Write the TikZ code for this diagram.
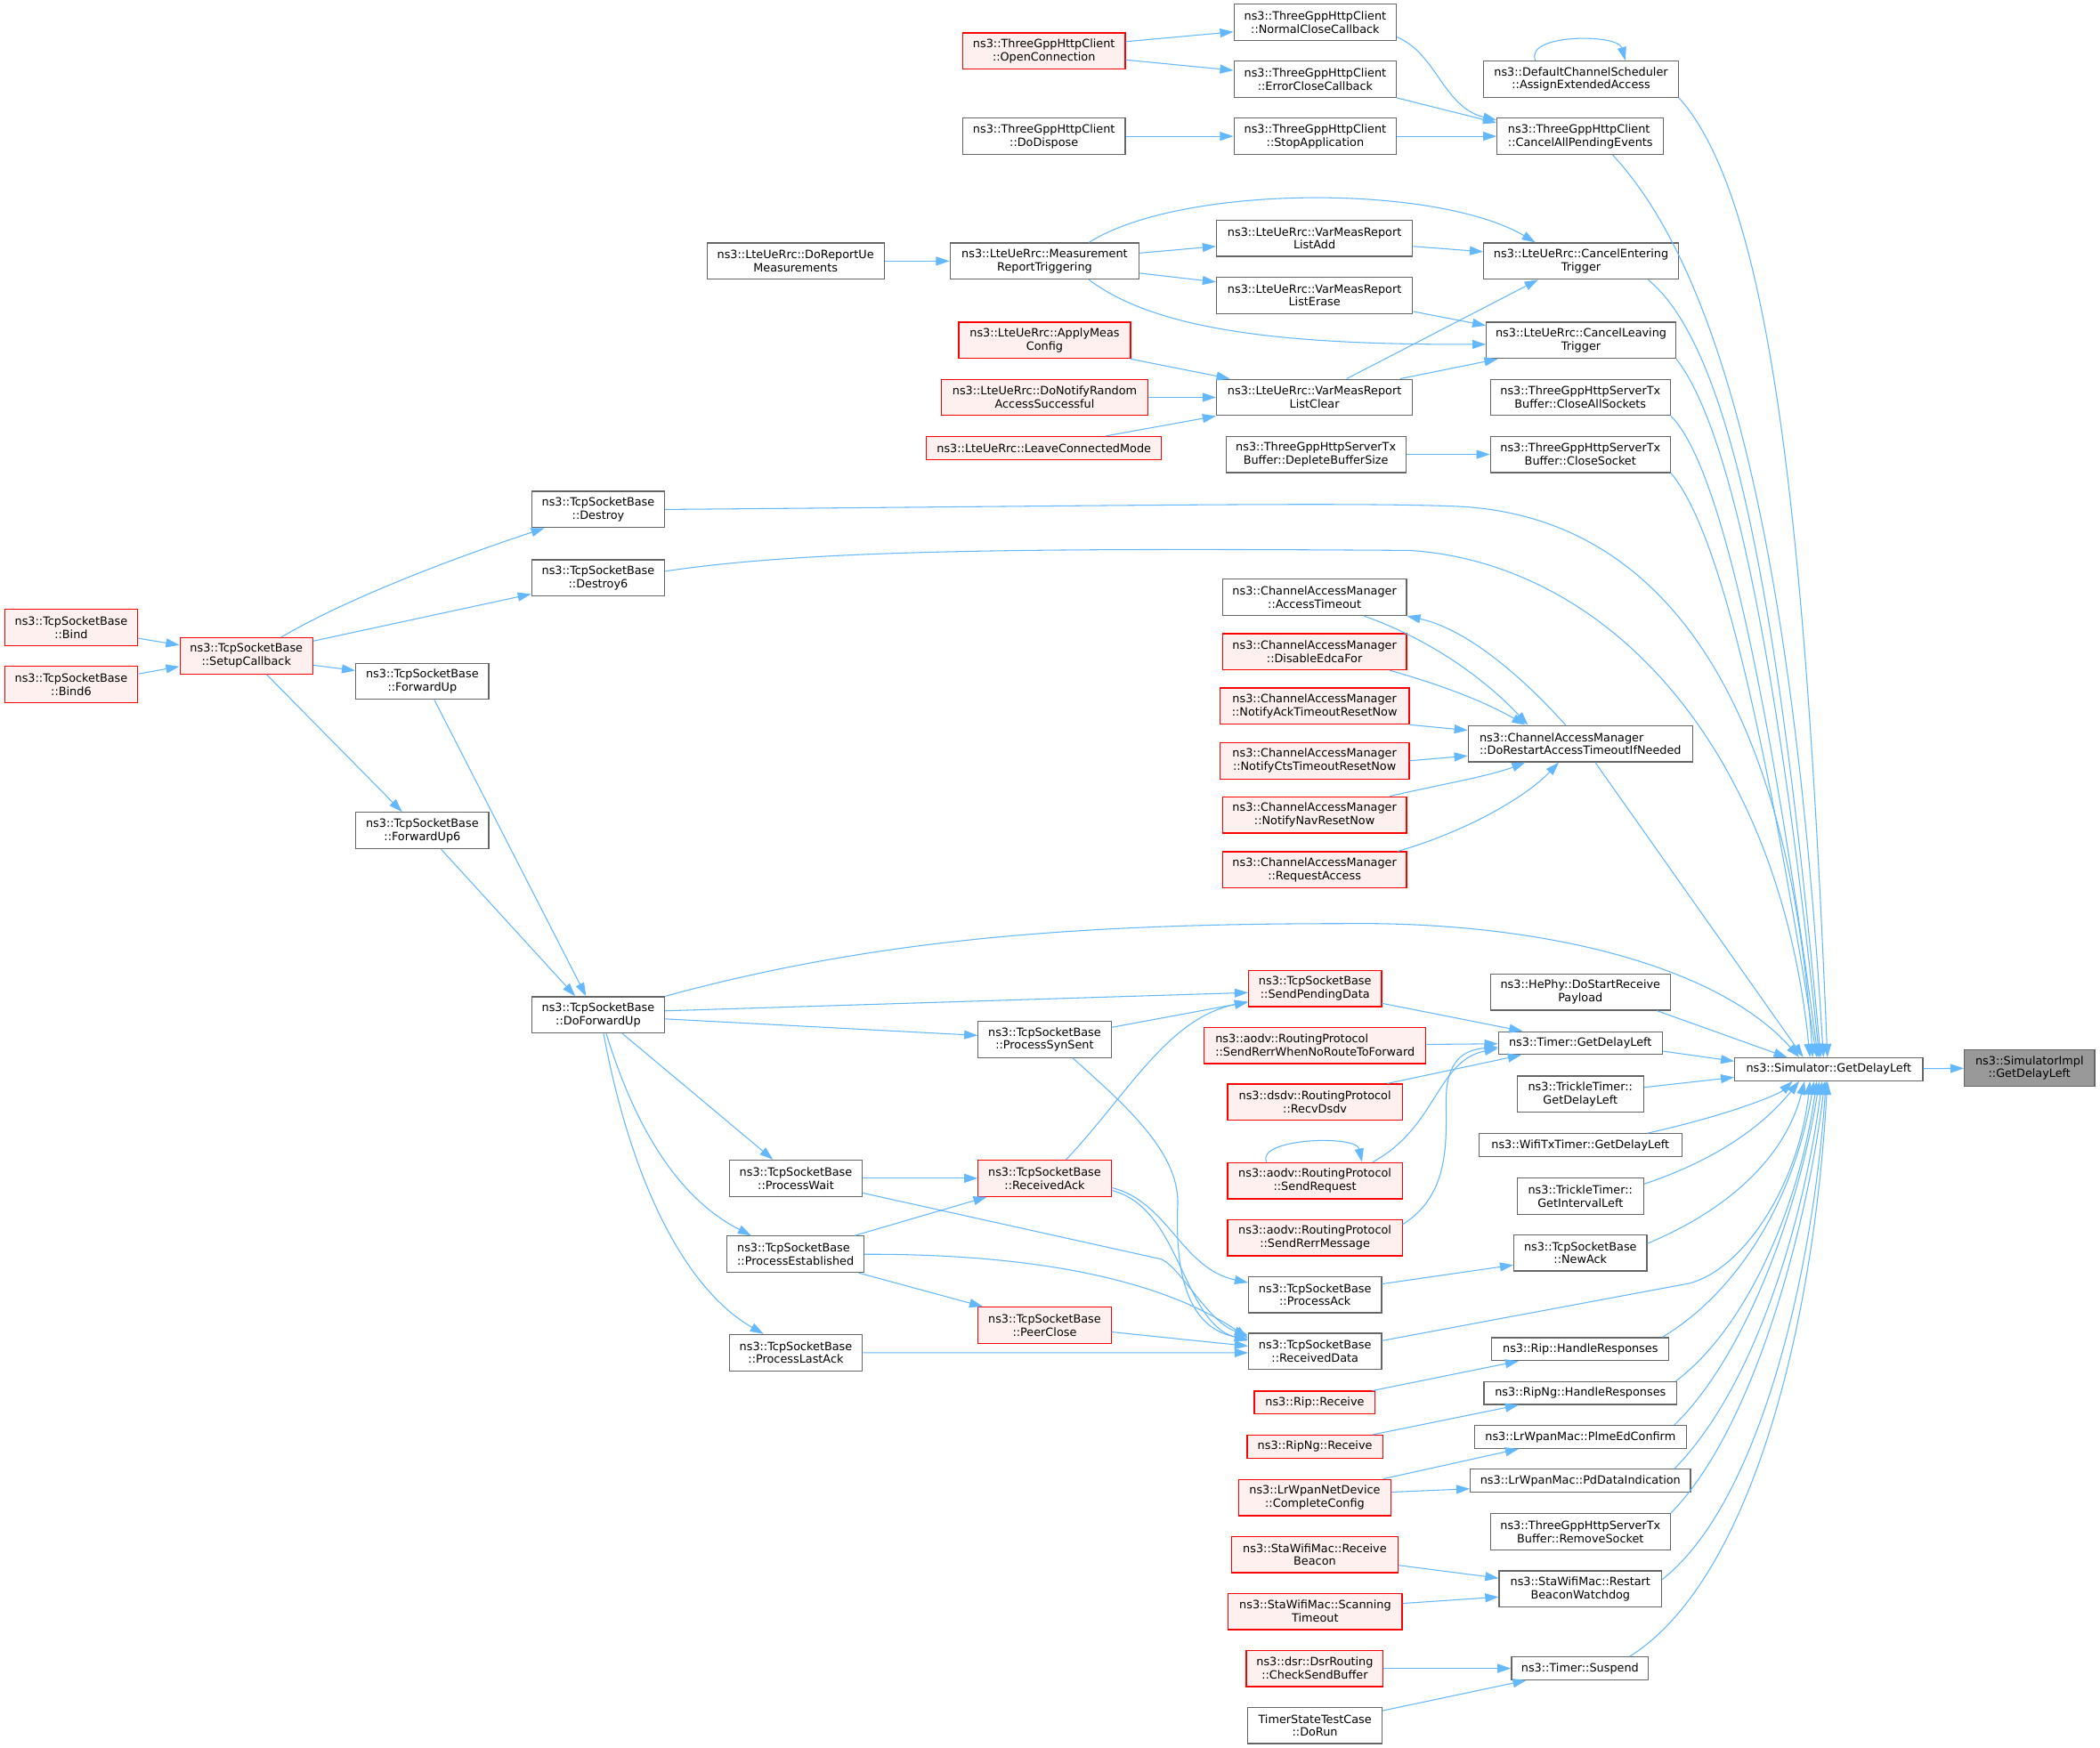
\documentclass[tikz,border=0pt]{standalone}
\usepackage{fontspec}
\setmainfont{DejaVu Sans}
\usetikzlibrary{arrows.meta}
\definecolor{edgeblue}{HTML}{63B8FF}
\definecolor{redfill}{HTML}{FFF0F0}
\definecolor{boxgray}{HTML}{666666}
\definecolor{focusgray}{HTML}{999999}
\begin{document}
\begin{tikzpicture}[x=1pt,y=-1pt,
    fn/.style={draw=boxgray,fill=white,line width=0.8pt,align=center,inner sep=0pt,minimum height=27pt,font=\fontsize{8.5}{9.8}\selectfont},
    fnr/.style={fn,draw=red,fill=redfill},
    focus/.style={fn,fill=focusgray},
    oneline/.style={minimum height=17pt},
    call/.style={draw=edgeblue,line width=0.7pt,-{Triangle[length=10pt,width=6.6pt]}}]
\useasboundingbox[fill=white] (0,0) rectangle (1564,1302);

\node[focus,minimum width=97pt] (simImpl) at (1511.5,795.5) {ns3::SimulatorImpl\\::GetDelayLeft};
\node[fn,oneline,minimum width=140pt] (sim) at (1362,796.5) {ns3::Simulator::GetDelayLeft};

\node[fnr,minimum width=121pt] (openConn) at (777.5,38) {ns3::ThreeGppHttpClient\\::OpenConnection};
\node[fn,minimum width=121pt] (doDispose) at (777.5,101.5) {ns3::ThreeGppHttpClient\\::DoDispose};
\foreach \n/\y/\t in {normalClose/16.7/NormalCloseCallback, errorClose/59/ErrorCloseCallback, stopApp/101.5/StopApplication}
    \node[fn,minimum width=121pt] (\n) at (979.5,\y) {ns3::ThreeGppHttpClient\\::\t};
\node[fn,align=left,minimum width=124pt] (cancelAll) at (1177,101.5) {ns3::ThreeGppHttpClient\\::CancelAllPendingEvents};
\node[fn,minimum width=145pt] (assign) at (1177.5,59) {ns3::DefaultChannelScheduler\\::AssignExtendedAccess};

\node[fn,minimum width=132pt] (doReport) at (592.5,194.5) {ns3::LteUeRrc::DoReportUe\\Measurements};
\node[fn,minimum width=141pt] (measTrig) at (778,194.5) {ns3::LteUeRrc::Measurement\\ReportTriggering};
\node[fnr,minimum width=128pt] (applyMeas) at (778,253.5) {ns3::LteUeRrc::ApplyMeas\\Config};
\node[fnr,minimum width=154pt] (notifyRand) at (778,296) {ns3::LteUeRrc::DoNotifyRandom\\AccessSuccessful};
\node[fnr,oneline,minimum width=175pt] (leaveConn) at (777.5,333.7) {ns3::LteUeRrc::LeaveConnectedMode};
\foreach \n/\y/\t in {listAdd/177.5/ListAdd, listErase/220/ListErase, listClear/296/ListClear}
    \node[fn,minimum width=146pt] (\n) at (979,\y) {ns3::LteUeRrc::VarMeasReport\\\t};
\node[fn,minimum width=145pt] (ceTrig) at (1177.5,194.5) {ns3::LteUeRrc::CancelEntering\\Trigger};
\node[fn,minimum width=141pt] (clTrig) at (1177.5,253.5) {ns3::LteUeRrc::CancelLeaving\\Trigger};
\foreach \n/\x/\y/\t in {closeAll/1177/296/CloseAllSockets, closeSock/1177/338.5/CloseSocket, deplete/980/338.5/DepleteBufferSize, removeSock/1177/1141/RemoveSocket}
    \node[fn,minimum width=134pt] (\n) at (\x,\y) {ns3::ThreeGppHttpServerTx\\Buffer::\t};

\foreach \n/\x/\y/\t in {destroy/445.5/379.5/Destroy, destroy6/445.5/430.5/Destroy6, forwardUp/314.5/507.5/ForwardUp, forwardUp6/314.5/618.7/ForwardUp6, doFwd/445.5/756/DoForwardUp, procSyn/778/774.3/ProcessSynSent, procWait/592.7/877.7/ProcessWait, procLast/592.7/1007.6/ProcessLastAck, procAck/979.4/964.4/ProcessAck, recvData/979.4/1006.7/ReceivedData, newAck/1177/933.3/NewAck}
    \node[fn,minimum width=99pt] (\n) at (\x,\y) {ns3::TcpSocketBase\\::\t};
\node[fn,align=left,minimum width=102pt] (procEst) at (592.5,934.3) {ns3::TcpSocketBase\\::ProcessEstablished};
\foreach \n/\x/\y/\t in {bind/53/467.5/Bind, bind6/53/510/Bind6, setupCb/183.5/488.5/SetupCallback, recvAck/778/877.7/ReceivedAck, peerClose/778/987.2/PeerClose, sendPend/979.4/736.4/SendPendingData}
    \node[fnr,minimum width=99pt] (\n) at (\x,\y) {ns3::TcpSocketBase\\::\t};

\node[fn,minimum width=137pt] (accTimeout) at (979,445) {ns3::ChannelAccessManager\\::AccessTimeout};
\foreach \n/\y/\w/\t in {disableEdca/485.5/137/DisableEdcaFor, notifyAck/526/141/NotifyAckTimeoutResetNow, notifyCts/566.7/141/NotifyCtsTimeoutResetNow, notifyNav/607/137/NotifyNavResetNow, reqAccess/648/137/RequestAccess}
    \node[fnr,minimum width=\w pt] (\n) at (979,\y) {ns3::ChannelAccessManager\\::\t};
\node[fn,align=left,minimum width=167pt] (doRestart) at (1177,554) {ns3::ChannelAccessManager\\::DoRestartAccessTimeoutIfNeeded};

\node[fnr,align=left,minimum width=165pt] (rerrNoRoute) at (979.4,778.7) {ns3::aodv::RoutingProtocol\\::SendRerrWhenNoRouteToForward};
\node[fnr,minimum width=130pt] (recvDsdv) at (979.3,821) {ns3::dsdv::RoutingProtocol\\::RecvDsdv};
\node[fnr,minimum width=130pt] (sendReq) at (979.3,879.5) {ns3::aodv::RoutingProtocol\\::SendRequest};
\node[fnr,minimum width=130pt] (sendRerr) at (979.3,922) {ns3::aodv::RoutingProtocol\\::SendRerrMessage};
\node[fnr,oneline,minimum width=90pt] (ripRecv) at (979.2,1044.8) {ns3::Rip::Receive};
\node[fnr,oneline,minimum width=101pt] (ripngRecv) at (979.3,1077.6) {ns3::RipNg::Receive};
\node[fnr,minimum width=113pt] (lrDevice) at (979.2,1115.5) {ns3::LrWpanNetDevice\\::CompleteConfig};
\node[fnr,minimum width=124pt] (staRecvB) at (979.2,1158) {ns3::StaWifiMac::Receive\\Beacon};
\node[fnr,minimum width=129.5pt] (staScan) at (979.5,1200.4) {ns3::StaWifiMac::Scanning\\Timeout};
\node[fnr,minimum width=102pt] (dsrCheck) at (979.2,1242.8) {ns3::dsr::DsrRouting\\::CheckSendBuffer};
\node[fn,minimum width=100pt] (timerTest) at (979.3,1285.3) {TimerStateTestCase\\::DoRun};

\node[fn,minimum width=134pt] (hePhy) at (1177,739) {ns3::HePhy::DoStartReceive\\Payload};
\node[fn,oneline,minimum width=122pt] (timerGDL) at (1177,777) {ns3::Timer::GetDelayLeft};
\node[fn,minimum width=94pt] (trickleGDL) at (1177,815) {ns3::TrickleTimer::\\GetDelayLeft};
\node[fn,oneline,minimum width=151pt] (wifiTx) at (1177,853) {ns3::WifiTxTimer::GetDelayLeft};
\node[fn,minimum width=94pt] (trickleGIL) at (1177,891) {ns3::TrickleTimer::\\GetIntervalLeft};
\node[fn,oneline,minimum width=132pt] (ripHR) at (1177,1005) {ns3::Rip::HandleResponses};
\node[fn,oneline,minimum width=143.5pt] (ripngHR) at (1177,1037.7) {ns3::RipNg::HandleResponses};
\node[fn,oneline,minimum width=158pt] (plmeEd) at (1177,1070.4) {ns3::LrWpanMac::PlmeEdConfirm};
\node[fn,oneline,minimum width=164pt] (pdData) at (1177,1103) {ns3::LrWpanMac::PdDataIndication};
\node[fn,minimum width=121pt] (restartBW) at (1177,1183.6) {ns3::StaWifiMac::Restart\\BeaconWatchdog};
\node[fn,oneline,minimum width=102pt] (timerSusp) at (1176.7,1242.8) {ns3::Timer::Suspend};

\draw[call] (sim) -- (simImpl);

\draw[call] ([yshift=7pt]openConn.east) -- ([yshift=-7pt]normalClose.west);
\draw[call] ([yshift=-6.6pt]openConn.east) -- ([yshift=6.6pt]errorClose.west);
\draw[call] (doDispose) -- (stopApp);
\draw[call] ([yshift=3pt]normalClose.south east) .. controls (1070,40) and (1075,80) .. ([yshift=12pt]cancelAll.west);
\draw[call] (errorClose.south east) -- ([yshift=10pt]cancelAll.west);
\draw[call] (stopApp) -- (cancelAll);
\draw[call] ([xshift=-34pt]assign.north) .. controls (1135,25) and (1205,25) .. ([xshift=33pt]assign.north);

\draw[call] (doReport) -- (measTrig);
\draw[call] ([yshift=6pt]measTrig.east) -- ([yshift=-6pt]listAdd.west);
\draw[call] ([yshift=-9pt]measTrig.east) -- ([yshift=10pt]listErase.west);
\draw[call] ([xshift=33pt]measTrig.north) .. controls (880,137) and (1070,137) .. ([xshift=-34pt]ceTrig.north);
\draw[call] ([xshift=33pt]measTrig.south) .. controls (860,245) and (950,257) .. ([yshift=-3pt]clTrig.west);
\draw[call] ([yshift=-6pt]listAdd.east) -- ([yshift=7pt]ceTrig.west);
\draw[call] ([yshift=-12pt]listErase.east) -- ([yshift=11pt]clTrig.west);
\draw[call] ([xshift=24pt]listClear.north) -- ([xshift=-32pt]ceTrig.south);
\draw[call] ([xshift=64pt]listClear.north) -- ([xshift=-62pt]clTrig.south);
\draw[call] ([xshift=64pt]applyMeas.south) -- ([xshift=-63pt]listClear.north);
\draw[call] (notifyRand) -- (listClear);
\draw[call] ([xshift=46pt]leaveConn.north) -- (listClear.south west);
\draw[call] (deplete) -- (closeSock);

\draw[call] ([yshift=-8pt]bind.east) -- ([yshift=8pt]setupCb.west);
\draw[call] ([yshift=8pt]bind6.east) -- ([yshift=-8pt]setupCb.west);
\draw[call] ([xshift=26pt]setupCb.north) .. controls (260,445) and (340,415) .. ([xshift=-40pt]destroy.south);
\draw[call] ([yshift=11pt]setupCb.east) -- ([yshift=-12pt]destroy6.west);
\draw[call] ([yshift=-7pt]setupCb.east) -- ([yshift=8pt]forwardUp.west);
\draw[call] ([xshift=15pt]setupCb.south) -- ([xshift=-15pt]forwardUp6.north);
\draw[call] ([xshift=9pt]forwardUp.south) -- ([xshift=-9pt]doFwd.north);
\draw[call] ([xshift=14pt]forwardUp6.south) -- ([xshift=-17pt]doFwd.north);
\draw[call] ([xshift=18pt]doFwd.south) -- ([xshift=-17pt]procWait.north);
\draw[call] ([xshift=6pt]doFwd.south) .. controls (470,830) and (500,890) .. ([xshift=-33pt]procEst.north);
\draw[call] ([xshift=4pt]doFwd.south) .. controls (470,880) and (510,960) .. ([xshift=-24pt]procLast.north);
\draw[call] ([yshift=-3pt]doFwd.east) -- ([yshift=3pt]procSyn.west);
\draw[call] ([yshift=3pt]doFwd.east) -- ([yshift=-3pt]sendPend.west);
\draw[call] ([yshift=9pt]procSyn.east) -- ([yshift=-10pt]sendPend.west);
\draw[call] ([xshift=16pt]recvAck.north) .. controls (840,815) and (870,758) .. ([yshift=-10pt]sendPend.west);
\draw[call] (procWait) -- (recvAck);
\draw[call] ([xshift=44pt]procEst.north) -- ([xshift=-43pt]recvAck.south);
\draw[call] ([xshift=47pt]procEst.south) -- ([xshift=-46pt]peerClose.north);
\draw[call] ([yshift=-11pt]procWait.east) -- (865,938) .. controls (880,945) and (900,985) .. ([yshift=12pt]recvData.west);
\draw[call] (procEst.east) .. controls (760,934) and (860,950) .. ([yshift=10pt]recvData.west);
\draw[call] ([xshift=21pt]procSyn.south) .. controls (840,825) and (880,860) .. (877,900) .. controls (875,960) and (890,990) .. ([yshift=9pt]recvData.west);
\draw[call] ([yshift=-7pt]recvAck.east) .. controls (870,895) and (880,945) .. ([yshift=9pt]procAck.west);
\draw[call] ([yshift=-9pt]recvAck.east) .. controls (880,900) and (880,985) .. ([yshift=8pt]recvData.west);
\draw[call] ([yshift=-5pt]peerClose.east) -- ([yshift=4pt]recvData.west);
\draw[call] (procLast.east) -- ([yshift=-1pt]recvData.west);
\draw[call] ([yshift=8pt]procAck.east) -- ([yshift=-9pt]newAck.west);

\draw[call] ([xshift=37pt]accTimeout.south) .. controls (1070,478) and (1110,510) .. ([xshift=-39pt]doRestart.north);
\draw[call] ([xshift=-11pt]doRestart.north) .. controls (1130,500) and (1090,468) .. (accTimeout.south east);
\draw[call] ([xshift=56pt]disableEdca.south) .. controls (1080,512) and (1110,525) .. ([xshift=-41pt]doRestart.north);
\draw[call] (notifyAck.south east) -- ([yshift=10pt]doRestart.west);
\draw[call] (notifyCts.east) -- ([yshift=-9pt]doRestart.west);
\draw[call] ([xshift=56pt]notifyNav.north) .. controls (1070,585) and (1110,578) .. ([xshift=-41pt]doRestart.south);
\draw[call] ([xshift=62pt]reqAccess.north) .. controls (1090,620) and (1135,595) .. ([xshift=-16pt]doRestart.south);

\draw[call] ([yshift=-11pt]sendPend.east) -- ([xshift=-43pt]timerGDL.north);
\draw[call] (rerrNoRoute) -- (timerGDL);
\draw[call] ([xshift=54pt]recvDsdv.north) -- ([xshift=-44pt]timerGDL.south);
\draw[call] ([xshift=43pt]sendReq.north) .. controls (1070,840) and (1070,790) .. ([yshift=-4pt]timerGDL.west);
\draw[call] ([yshift=10pt]sendRerr.east) .. controls (1080,890) and (1077,850) .. (1077,820) .. controls (1077,790) and (1090,782) .. ([yshift=-3pt]timerGDL.west);
\draw[call] ([xshift=-36pt]sendReq.north) .. controls (935,848) and (1010,845) .. ([xshift=35pt]sendReq.north);
\draw[call] ([xshift=43pt]ripRecv.north) -- ([xshift=-46pt]ripHR.south);
\draw[call] ([xshift=43pt]ripngRecv.north) -- ([xshift=-46pt]ripngHR.south);
\draw[call] ([xshift=51pt]lrDevice.north) -- ([xshift=-46pt]plmeEd.south);
\draw[call] ([yshift=4pt]lrDevice.east) -- ([yshift=-6pt]pdData.west);
\draw[call] ([yshift=-8pt]staRecvB.east) -- ([yshift=8pt]restartBW.west);
\draw[call] ([yshift=6pt]staScan.east) -- ([yshift=-6pt]restartBW.west);
\draw[call] (dsrCheck) -- (timerSusp);
\draw[call] ([yshift=11pt]timerTest.east) -- ([xshift=-40pt]timerSusp.south);

\draw[call] (assign.south east) .. controls (1320,150) and (1345,400) .. ([xshift=-1pt]sim.north);
\draw[call] ([xshift=24pt]cancelAll.south) .. controls (1280,200) and (1335,400) .. ([xshift=-4pt]sim.north);
\draw[call] ([xshift=50pt]ceTrig.south) .. controls (1290,260) and (1325,450) .. ([xshift=-6pt]sim.north);
\draw[call] (clTrig.south east) .. controls (1290,320) and (1325,500) .. ([xshift=-7pt]sim.north);
\draw[call] (closeAll.south east) .. controls (1285,350) and (1322,550) .. ([xshift=-8pt]sim.north);
\draw[call] (closeSock.south east) .. controls (1285,400) and (1320,580) .. ([xshift=-9pt]sim.north);
\draw[call] (destroy.east) .. controls (800,377) and (1000,374) .. (1080,377) .. controls (1260,382) and (1335,560) .. ([xshift=-12pt]sim.north);
\draw[call] ([yshift=5pt]destroy6.east) .. controls (600,410) and (750,408) .. (1050,410) .. controls (1200,420) and (1325,560) .. ([xshift=-14pt]sim.north);
\draw[call] ([xshift=11pt]doRestart.south) -- ([xshift=-19pt]sim.north);
\draw[call] (doFwd.north east) .. controls (650,700) and (800,688) .. (1000,688) .. controls (1150,686) and (1280,720) .. ([xshift=-22pt]sim.north);
\draw[call] ([xshift=57pt]hePhy.south) -- ([xshift=-31pt]sim.north);
\draw[call] ([yshift=-6pt]timerGDL.east) -- ([yshift=6pt]sim.west);
\draw[call] ([yshift=5pt]trickleGDL.east) -- ([yshift=-6pt]sim.west);
\draw[call] ([xshift=50pt]wifiTx.north) .. controls (1290,830) and (1325,815) .. ([xshift=-27pt]sim.south);
\draw[call] ([yshift=9pt]trickleGIL.east) .. controls (1290,860) and (1320,830) .. ([xshift=-22pt]sim.south);
\draw[call] ([yshift=7pt]newAck.east) .. controls (1290,900) and (1330,860) .. ([xshift=-18pt]sim.south);
\draw[call] ([yshift=8pt]recvData.east) -- (1258,956) .. controls (1300,945) and (1340,880) .. ([xshift=-14pt]sim.south);
\draw[call] ([xshift=61pt]ripHR.north) .. controls (1290,965) and (1335,900) .. ([xshift=-11pt]sim.south);
\draw[call] ([xshift=71pt]ripngHR.north) .. controls (1300,990) and (1340,900) .. ([xshift=-9pt]sim.south);
\draw[call] ([xshift=70pt]plmeEd.north) .. controls (1300,1010) and (1340,900) .. ([xshift=-7pt]sim.south);
\draw[call] ([xshift=70pt]pdData.north) .. controls (1310,1030) and (1345,900) .. ([xshift=-5pt]sim.south);
\draw[call] (removeSock.north east) .. controls (1310,1060) and (1348,900) .. ([xshift=-3pt]sim.south);
\draw[call] ([yshift=7pt]restartBW.east) .. controls (1310,1120) and (1350,950) .. ([xshift=-2pt]sim.south);
\draw[call] ([xshift=37pt]timerSusp.north) .. controls (1300,1180) and (1350,1000) .. ([xshift=-1pt]sim.south);
\end{tikzpicture}
\end{document}
